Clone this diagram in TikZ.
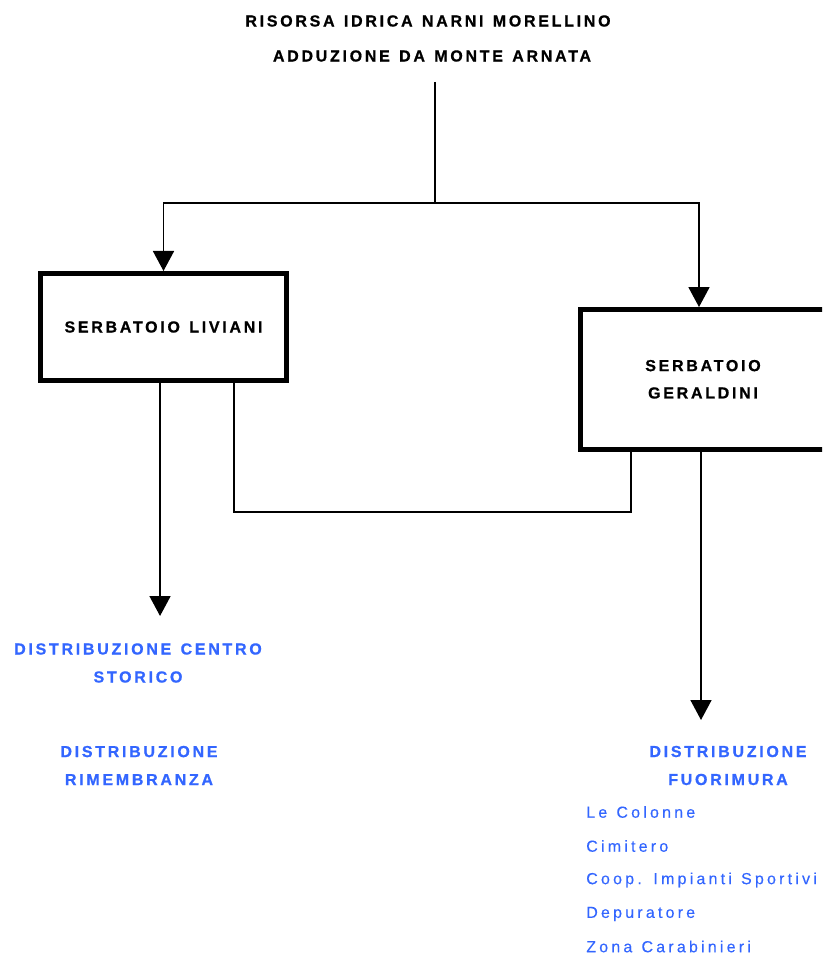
\documentclass[tikz,border=0pt]{standalone}
\usepackage{fontspec}
\setmainfont{Liberation Sans}
\usetikzlibrary{arrows.meta}
\definecolor{dblue}{RGB}{51,102,255}
\newfontfamily\spbold[LetterSpace=17,FakeBold=0.8,WordSpace=1.3]{Liberation Sans Bold}
\newfontfamily\spreg[LetterSpace=20,FakeBold=0.3,WordSpace=1.2]{Liberation Sans}
\begin{document}
\begin{tikzpicture}[x=0.75pt,y=-0.75pt,
  conn/.style={line width=1.2pt},
  arr/.style={conn,-{Triangle[width=15.75pt,length=15pt]}},
  tank/.style={draw,line width=3.75pt,inner sep=0pt,font=\fontsize{12}{20.5}\spbold,align=center},
  title/.style={font=\fontsize{12}{12}\spbold,inner sep=0pt},
  dist/.style={font=\fontsize{12}{21}\spbold,text=dblue,align=center,inner sep=0pt},
  item/.style={font=\fontsize{12}{12}\spreg,text=dblue,anchor=west,inner sep=0pt}]
\useasboundingbox (0,0) rectangle (822,955);
\clip (0,0) rectangle (822,955);
\node[title] (t1) at (428,21) {RISORSA IDRICA NARNI MORELLINO};
\node[title] (t2) at (432,56) {ADDUZIONE DA MONTE ARNATA};
\node[tank,minimum width=184.5pt,minimum height=80.25pt] (liv) at (163.5,327) {SERBATOIO LIVIANI};
\node[tank,minimum width=183.75pt,minimum height=104.6pt] (ger) at (703,379.3) {SERBATOIO\\GERALDINI};
\coordinate (src) at (435,82);
\coordinate (split) at (435,203);
\coordinate (gin) at (699,203);
\draw[conn] (src) -- (split);
\draw[arr] (split) -| (liv.north);
\draw[arr] (split) -- (gin) -- (gin |- ger.north);
\coordinate (lA) at ([xshift=-2.6pt]liv.south);
\coordinate (lB) at ([xshift=52.9pt]liv.south);
\coordinate (gA) at ([xshift=-54pt]ger.south);
\coordinate (gB) at ([xshift=-1.5pt]ger.south);
\coordinate (e1) at (160,616);
\coordinate (e2) at (701,720);
\draw[arr] (lA) -- (lA |- e1);
\draw[arr] (gB) -- (gB |- e2);
\draw[conn] (lB) |- (gA |- 0,512) -- (gA);
\node[dist] (d1) at (138,663) {DISTRIBUZIONE CENTRO\\STORICO};
\node[dist] (d2) at (139,765.5) {DISTRIBUZIONE\\RIMEMBRANZA};
\node[dist] (d3) at (728,765.5) {DISTRIBUZIONE\\FUORIMURA};
\node[item] (i1) at (586,812) {Le Colonne};
\node[item] (i2) at (586,846) {Cimitero};
\node[item] (i3) at (586,880) {Coop. Impianti Sportivi};
\node[item] (i4) at (586,914) {Depuratore};
\node[item] (i5) at (586,946.5) {Zona Carabinieri};
\end{tikzpicture}
\end{document}
